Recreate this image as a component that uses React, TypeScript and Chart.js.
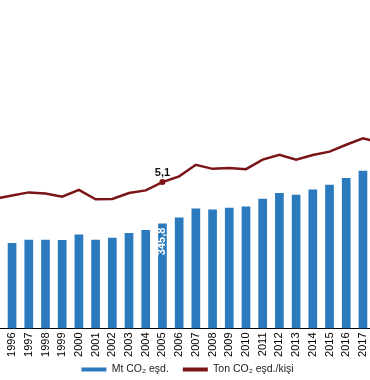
import React, { useEffect, useRef } from "react";
import { Chart, registerables } from "chart.js";

Chart.register(...registerables);

const years = ["1995", "1996", "1997", "1998", "1999", "2000", "2001", "2002", "2003", "2004", "2005", "2006", "2007", "2008", "2009", "2010", "2011", "2012", "2013", "2014", "2015", "2016", "2017", "2018"];
const totalMt = [272, 282, 293, 293, 292, 310, 293, 299, 315, 325, 345.8, 366, 396, 392, 398, 402, 428, 447, 441, 458, 474, 496, 520, 521];
const perCapita = [4.52, 4.63, 4.74, 4.7, 4.59, 4.83, 4.5, 4.51, 4.72, 4.81, 5.1, 5.3, 5.7, 5.56, 5.59, 5.55, 5.88, 6.05, 5.88, 6.04, 6.16, 6.4, 6.62, 6.48];
const seriesNames = ["Mt CO₂ eşd.", "Ton CO₂ eşd./kişi"];
const labelYear = "2005";
const barLabel = "345,8";
const lineLabel = "5,1";

const BLUE = "#2a7abd";
const BLUE_EDGE = "#1f659f";
const RED = "#7a1416";
const FONT = "'Liberation Sans', Arial, sans-serif";

export default function App() {
  const ref = useRef<HTMLCanvasElement | null>(null);
  useEffect(() => {
    if (!ref.current) return;
    const idx = years.indexOf(labelYear);
    const labelPlugin = {
      id: "valueLabels",
      afterLayout(chart: any) {
        const lg = chart.legend;
        if (lg) {
          lg.top -= 7.25;
          lg.bottom -= 7.25;
        }
      },
      afterDatasetsDraw(chart: any) {
        const ctx = chart.ctx;
        const barEl = chart.getDatasetMeta(0).data[idx];
        const ptEl = chart.getDatasetMeta(1).data[idx];
        ctx.save();
        ctx.font = `bold 11px ${FONT}`;
        ctx.fillStyle = "#ffffff";
        ctx.translate(barEl.x, barEl.y + 4);
        ctx.rotate(-Math.PI / 2);
        ctx.textAlign = "right";
        ctx.textBaseline = "middle";
        ctx.fillText(barLabel, 0, 0);
        ctx.restore();
        ctx.save();
        ctx.font = `bold 11px ${FONT}`;
        ctx.fillStyle = "#111111";
        ctx.textAlign = "center";
        ctx.textBaseline = "middle";
        ctx.fillText(lineLabel, ptEl.x, ptEl.y - 9);
        ctx.restore();
      },
    };
    const chart = new Chart(ref.current, {
      type: "bar",
      data: {
        labels: years,
        datasets: [
          {
            type: "bar",
            label: seriesNames[0],
            data: totalMt,
            backgroundColor: BLUE,
            borderWidth: 0,
            barPercentage: 0.52,
            categoryPercentage: 1,
            yAxisID: "y",
            order: 2,
          },
          {
            type: "line",
            label: seriesNames[1],
            data: perCapita,
            borderColor: RED,
            backgroundColor: RED,
            borderWidth: 2.5,
            pointRadius: years.map((y) => (y === labelYear ? 3 : 0)),
            pointBackgroundColor: RED,
            pointBorderWidth: 0,
            tension: 0,
            yAxisID: "y1",
            order: 1,
          } as any,
        ],
      },
      options: {
        responsive: false,
        animation: false,
        layout: { padding: 0 },
        scales: {
          x: {
            grid: { display: false, drawTicks: false },
            border: { display: true, color: "#000000", width: 1 },
            ticks: {
              color: "#000000",
              font: { family: FONT, size: 11 },
              minRotation: 90,
              maxRotation: 90,
              autoSkip: false,
              padding: 4,
            },
            afterFit: (scale: any) => {
              scale.height = 29;
              scale.paddingLeft = 0;
              scale.paddingRight = 0;
            },
          },
          y: { display: false, min: 0, max: 1083 },
          y1: { display: false, min: 0, max: 11.44, position: "right" },
        },
        plugins: {
          tooltip: { enabled: false },
          legend: {
            position: "bottom",
            labels: {
              boxWidth: 25,
              boxHeight: 4,
              padding: 14,
              color: "#222222",
              font: { family: FONT, size: 10.5 },
              generateLabels: (c: any) =>
                c.data.datasets.map((ds: any, i: number) => ({
                  text: ds.label,
                  fillStyle: i === 0 ? BLUE : RED,
                  strokeStyle: i === 0 ? BLUE_EDGE : RED,
                  lineWidth: 0,
                  hidden: false,
                  datasetIndex: i,
                  fontColor: "#222222",
                })),
            },
          },
        },
      },
      plugins: [labelPlugin],
    });
    return () => chart.destroy();
  }, []);
  return (
    <div style={{ position: "fixed", left: 0, top: 0, width: 370, height: 380, overflow: "hidden", background: "#fff" }}>
      <div style={{ position: "absolute", left: -13, top: 0, width: 401, height: 392 }}>
        <canvas ref={ref} width={401} height={392} />
      </div>
    </div>
  );
}
